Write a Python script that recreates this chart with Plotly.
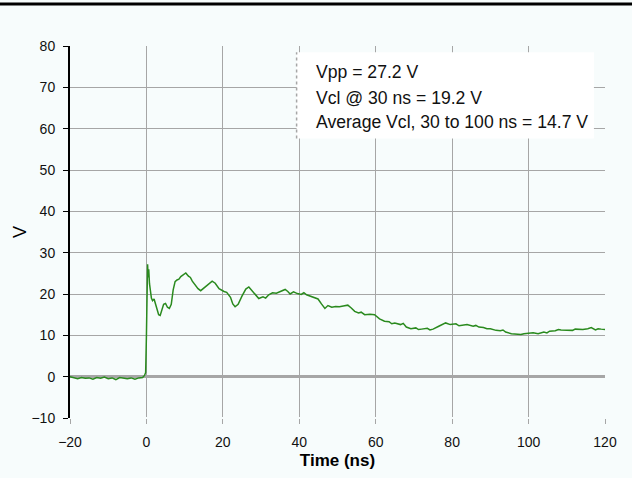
import plotly.graph_objects as go

# waveform
time_ns = [-20, -19, -18, -17, -16, -15, -14, -13, -12, -11, -10, -9, -8, -7, -6, -5, -4, -3, -2, -1, -0.5,
           -0.2, 0, 0.1, 0.2, 0.3, 0.45, 0.6, 0.8, 1.0, 1.3, 1.6, 2.0, 2.4, 2.8, 3.2, 3.6, 4.0, 4.5, 5.0,
           5.5, 6.0, 6.5, 7.0, 7.5, 8.0, 8.5, 9.0, 9.5, 10.3, 11, 11.5, 12, 12.5, 13, 13.5, 14.2, 15, 16,
           17.2, 18, 19, 20.3, 21, 22, 22.6, 23.2, 24, 25, 26, 26.8, 27.5, 28.5, 29.4, 30.5, 31.2, 32, 33, 34,
           35, 36.3, 37, 37.6, 38.5, 39.5, 40.5, 41.2, 41.9, 43, 44.9, 45.8, 46.7, 47.5, 48.5, 49.5, 50.5, 51.5,
           52.7, 53.6, 54.5, 55.5, 56.2, 57.1, 58.5, 59.7, 61, 62.3, 63.5, 64.2, 65, 66.5, 67.2, 68, 69.2, 70.5, 71.2,
           72, 73.5, 74.2, 75, 76.5, 78.3, 79.5, 81, 81.8, 82.5, 83.9, 85.5, 86.2, 87, 88.2, 89.1, 90, 91.5, 92.6,
           93.3, 94, 95.5, 96.9, 98, 98.8, 99.5, 101.2, 102.5, 104, 104.8, 105.5, 107, 107.8, 108.5, 109.9, 111.5,
           112.2, 113, 114.2, 115.5, 116.4, 117.5, 118.2, 119, 120]
volts = [0.0, -0.3, -0.5, -0.2, -0.4, -0.3, -0.6, -0.2, -0.4, -0.1, -0.5, -0.3, -0.7, -0.2, -0.4, -0.5, -0.3, -0.6, -0.3, -0.2, 0.3,
         1.0, 10, 22, 25, 27.2, 24, 26, 22.5, 21, 19, 18.4, 18.8, 17.5, 16, 15, 14.8, 15.8, 17.5, 17.7,
         16.8, 16.5, 17.5, 21, 23, 23.4, 23.6, 24.2, 24.6, 25.1, 24.3, 24.0, 23.1, 22.4, 21.9, 21.3, 20.8, 21.4, 22.2,
         23.1, 22.6, 21.3, 20.6, 20.4, 19.2, 17.6, 16.9, 17.5, 19.5, 21.2, 21.7, 21.0, 19.8, 18.9, 19.3, 19.0, 19.8, 20.3, 20.2,
         20.6, 21.1, 20.6, 20.0, 20.5, 20.1, 19.9, 20.3, 19.8, 19.4, 18.8, 17.6, 16.5, 17.2, 16.8, 17.0, 16.9, 17.1,
         17.3, 16.6, 15.8, 15.4, 15.6, 15.0, 15.1, 15.0, 14.0, 13.4, 13.3, 12.8, 13.0, 12.6, 12.9, 12.0, 11.6, 11.8, 11.4,
         11.5, 11.7, 11.3, 11.5, 12.2, 13.0, 12.6, 12.8, 12.3, 12.4, 12.6, 12.2, 12.4, 12.0, 11.9, 11.6, 11.6, 11.2, 11.1,
         11.3, 10.8, 10.4, 10.3, 10.2, 10.4, 10.5, 10.6, 10.4, 10.8, 10.6, 11.0, 11.1, 11.4, 11.3, 11.3, 11.2,
         11.5, 11.4, 11.4, 11.6, 11.9, 11.3, 11.6, 11.5, 11.4]

x_ticks = [-20, 0, 20, 40, 60, 80, 100, 120]
y_ticks = [-10, 0, 10, 20, 30, 40, 50, 60, 70, 80]
notes = ["Vpp = 27.2 V", "Vcl @ 30 ns = 19.2 V", "Average Vcl, 30 to 100 ns = 14.7 V"]
note_y = [73.6, 67.5, 61.6]

bg = "#f7fcfc"
grid = "#a6a6a6"

fig = go.Figure()
fig.add_trace(go.Scatter(x=time_ns, y=volts, mode="lines",
                         line=dict(color="#2a8a1e", width=1.5), showlegend=False))

# white box behind the measurement notes
fig.add_shape(type="rect", xref="x", yref="y", x0=39.3, x1=117.1, y0=57.6, y1=78.5,
              fillcolor="white", line=dict(width=0), layer="above")
fig.add_shape(type="line", xref="x", yref="y", x0=39.3, x1=39.3, y0=57.6, y1=78.5,
              line=dict(color=grid, width=1.5, dash="dot"), layer="above")
for txt, yy in zip(notes, note_y):
    fig.add_annotation(xref="x", yref="y", x=43.8, y=yy, xanchor="left", yanchor="middle",
                       text=txt, showarrow=False, align="left",
                       font=dict(family="Liberation Sans, Arial", size=17.6, color="#111"))

# hide the gridline sitting on the bottom edge
fig.add_shape(type="line", xref="x", yref="y", x0=-20, x1=120, y0=-10, y1=-10,
              line=dict(color=bg, width=2), layer="between")

# heavy rule across the top of the page
fig.add_shape(type="line", xref="paper", yref="paper", x0=-0.2, x1=1.1, y0=1.113, y1=1.113,
              line=dict(color="black", width=3))

fig.update_xaxes(range=[-20, 120], tickvals=x_ticks, showgrid=True, gridcolor=grid, gridwidth=1,
                 zeroline=False, showline=False, ticks="outside", ticklen=5, tickcolor=grid,
                 ticklabelstandoff=6,
                 title=dict(text="<b>Time (ns)</b>", font=dict(size=17, color="black"), standoff=5),
                 tickfont=dict(size=14, color="#111"))
fig.update_yaxes(range=[-10, 80], tickvals=y_ticks, showgrid=True, gridcolor=grid, gridwidth=1,
                 zeroline=True, zerolinecolor=grid, zerolinewidth=2.5,
                 showline=True, linecolor="black", linewidth=2, ticks="outside", ticklen=5,
                 tickcolor="black", ticklabelstandoff=5,
                 title=dict(text="V", font=dict(size=18, color="black"), standoff=0),
                 tickfont=dict(size=14, color="#111"))

fig.update_layout(width=632, height=478, paper_bgcolor=bg, plot_bgcolor=bg,
                  margin=dict(l=70, r=27, t=46, b=60),
                  font=dict(family="Liberation Sans, Arial, sans-serif"))

fig.write_html("out.html", config={"displayModeBar": False},
               post_script="document.body.style.margin='0';")
